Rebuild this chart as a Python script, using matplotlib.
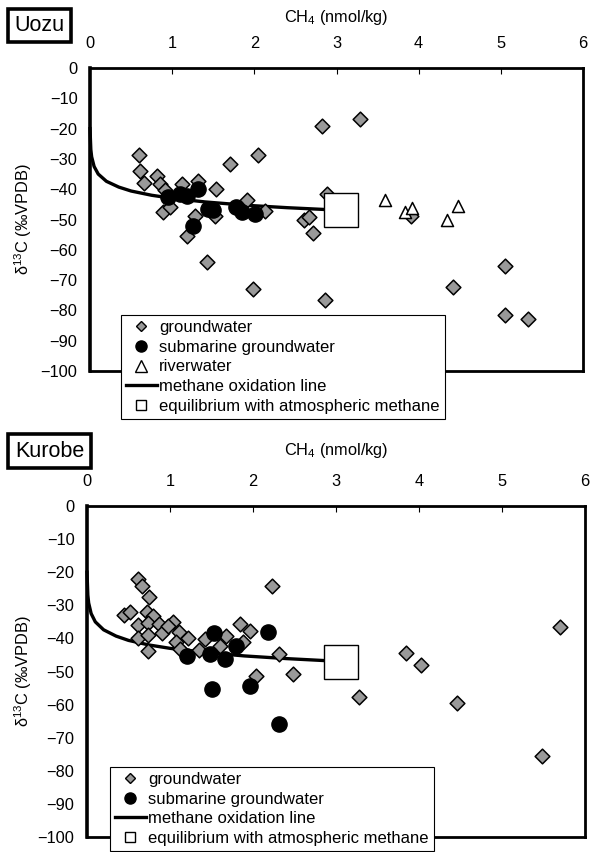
import matplotlib
matplotlib.use("Agg")
import matplotlib.pyplot as plt
from matplotlib.lines import Line2D

plt.rcParams["font.family"] = ["Liberation Sans", "DejaVu Sans"]
plt.rcParams["mathtext.fontset"] = "custom"
plt.rcParams["mathtext.rm"] = "Liberation Sans"
plt.rcParams["mathtext.default"] = "regular"

FS = 11.8
LEG_FS = 12
GRAY = "#999999"

# ── data ─────────────────────────────────────────────────────────────────────
# methane oxidation line (same in both panels)
ox_ch4 = [0.0, 0.01, 0.02, 0.05, 0.1, 0.2, 0.35, 0.5, 0.75, 1.0, 1.4, 1.9, 2.4, 2.86]
ox_d13c = [-20.0, -26.9, -29.3, -32.5, -35.0, -37.4, -39.3, -40.6, -42.0, -43.0,
           -44.2, -45.3, -46.1, -46.7]

# equilibrium with atmospheric methane
eq_ch4 = [3.06]
eq_d13c = [-47.0]

# Uozu
uozu_gw_ch4 = [0.60, 0.61, 0.66, 0.82, 0.85, 0.91, 0.89, 0.97, 1.12, 1.31, 1.28, 1.18,
               1.53, 1.52, 1.70, 2.05, 1.91, 2.13, 1.42, 1.98, 2.86, 2.82, 3.29, 2.60,
               2.66, 2.72, 2.88, 3.91, 5.05, 4.42, 5.05, 5.33]
uozu_gw_d13c = [-28.8, -34.0, -38.0, -35.8, -38.2, -40.4, -47.6, -45.9, -38.4, -37.3,
                -48.7, -55.5, -39.8, -48.7, -31.8, -28.8, -43.5, -47.2, -64.1, -73.1,
                -76.6, -19.1, -16.7, -50.3, -49.2, -54.4, -41.5, -48.7, -65.2, -72.2,
                -81.5, -82.9]
uozu_sub_ch4 = [0.95, 1.09, 1.18, 1.32, 1.44, 1.50, 1.25, 1.78, 1.85, 2.01]
uozu_sub_d13c = [-42.6, -41.5, -42.4, -39.8, -46.5, -47.0, -52.2, -45.9, -47.6, -48.1]
uozu_riv_ch4 = [3.59, 3.83, 3.92, 4.35, 4.48]
uozu_riv_d13c = [-43.5, -47.6, -46.1, -50.3, -45.7]

# Kurobe
kur_gw_ch4 = [0.61, 0.66, 0.75, 0.44, 0.52, 0.72, 0.79, 0.62, 0.74, 0.87, 0.90, 0.61,
              0.74, 0.74, 1.04, 0.98, 1.11, 1.22, 1.07, 1.12, 1.35, 1.42, 1.60, 1.68,
              1.84, 1.96, 1.88, 2.23, 2.31, 2.48, 2.04, 3.28, 3.84, 4.02, 4.46, 5.70,
              5.48]
kur_gw_d13c = [-22.1, -24.1, -27.6, -32.9, -31.9, -32.1, -33.1, -36.0, -35.3, -35.6,
               -38.4, -40.0, -39.0, -43.7, -35.1, -36.3, -38.0, -40.0, -41.0, -43.2,
               -43.4, -40.2, -42.4, -39.2, -35.6, -37.7, -41.2, -24.1, -44.7, -50.8,
               -51.3, -57.8, -44.4, -47.9, -59.6, -36.5, -75.4]
kur_sub_ch4 = [1.21, 1.48, 1.66, 1.53, 1.80, 2.18, 1.51, 1.96, 2.31]
kur_sub_d13c = [-45.2, -44.7, -46.2, -38.5, -42.2, -38.2, -55.3, -54.3, -65.9]

x_ticks = [0, 1, 2, 3, 4, 5, 6]
y_ticks = [0, -10, -20, -30, -40, -50, -60, -70, -80, -90, -100]


def style_axes(ax, ylabel_x):
    ax.set_xlim(0, 6)
    ax.set_ylim(-100, 0)
    ax.xaxis.set_ticks_position("top")
    ax.xaxis.set_label_position("top")
    ax.set_xticks(x_ticks)
    ax.set_yticks(y_ticks)
    ax.tick_params(axis="x", direction="in", length=4, width=0.8, pad=12,
                   labelsize=FS, top=True, bottom=False)
    ax.tick_params(axis="y", length=0, pad=9, labelsize=FS)
    ax.set_xlabel("CH$_4$ (nmol/kg)", fontsize=FS, labelpad=10)
    ax.set_ylabel("δ$^{13}$C (‰VPDB)", fontsize=FS)
    ax.yaxis.set_label_coords(ylabel_x, 0.5)
    for side in ["top", "right", "bottom"]:
        ax.spines[side].set_linewidth(2.0)
    ax.spines["left"].set_linewidth(2.6)


def draw_common(ax, gw_x, gw_y, sub_x, sub_y):
    ax.plot(ox_ch4, ox_d13c, color="black", lw=2.4, zorder=2, clip_on=False)
    ax.scatter(gw_x, gw_y, marker="D", s=56, facecolor=GRAY, edgecolor="black",
               linewidth=1.1, zorder=3)
    ax.scatter(sub_x, sub_y, marker="o", s=120, facecolor="black",
               edgecolor="black", zorder=4)
    ax.plot(eq_ch4, eq_d13c, marker="s", ms=25, mfc="white", mec="black",
            mew=1.0, ls="none", zorder=6)


def make_legend(ax, with_river, anchor):
    handles = [
        Line2D([], [], marker="D", ls="none", ms=5.5, mfc=GRAY, mec="black", mew=1.0),
        Line2D([], [], marker="o", ls="none", ms=8, mfc="black", mec="black"),
    ]
    labels = ["groundwater", "submarine groundwater"]
    if with_river:
        handles.append(Line2D([], [], marker="^", ls="none", ms=8, mfc="white",
                              mec="black", mew=1.0))
        labels.append("riverwater")
    handles.append(Line2D([], [], color="black", lw=2.4))
    labels.append("methane oxidation line")
    handles.append(Line2D([], [], marker="s", ls="none", ms=7.5, mfc="white",
                          mec="black", mew=1.0))
    labels.append("equilibrium with atmospheric methane")
    leg = ax.legend(handles, labels, loc="upper left", bbox_to_anchor=anchor,
                    bbox_transform=ax.figure.transFigure, fontsize=LEG_FS,
                    frameon=True, fancybox=False, framealpha=1, edgecolor="black",
                    borderpad=0.3, handlelength=1.85, handletextpad=0.15,
                    labelspacing=0.28, borderaxespad=0)
    leg.get_frame().set_linewidth(0.8)
    leg.set_zorder(10)
    return leg


fig = plt.figure(figsize=(5.9, 8.52), dpi=100)

# ── Uozu ─────────────────────────────────────────────────────────────────────
ax1 = fig.add_axes([90 / 590, 1 - 371 / 852, 493 / 590, 303 / 852])
draw_common(ax1, uozu_gw_ch4, uozu_gw_d13c, uozu_sub_ch4, uozu_sub_d13c)
ax1.scatter(uozu_riv_ch4, uozu_riv_d13c, marker="^", s=75, facecolor="white",
            edgecolor="black", linewidth=1.1, zorder=5)
style_axes(ax1, -(90 - 34) / 493)
make_legend(ax1, True, (121 / 590, 1 - 315 / 852))
fig.text(39.5 / 590, 1 - 25.5 / 852, "Uozu", fontsize=15.5, ha="center", va="center",
         bbox=dict(boxstyle="square,pad=0.3", facecolor="white", edgecolor="black",
                   linewidth=2.6))

# ── Kurobe ───────────────────────────────────────────────────────────────────
ax2 = fig.add_axes([87 / 590, 1 - 837 / 852, 498 / 590, 331 / 852])
draw_common(ax2, kur_gw_ch4, kur_gw_d13c, kur_sub_ch4, kur_sub_d13c)
style_axes(ax2, -(87 - 34) / 498)
ax2.xaxis.labelpad = 14
make_legend(ax2, False, (110 / 590, 1 - 767 / 852))
fig.text(49.5 / 590, 1 - 451 / 852, "Kurobe", fontsize=15.5, ha="center", va="center",
         bbox=dict(boxstyle="square,pad=0.3", facecolor="white", edgecolor="black",
                   linewidth=2.6))

fig.savefig("out.png", dpi=100)
